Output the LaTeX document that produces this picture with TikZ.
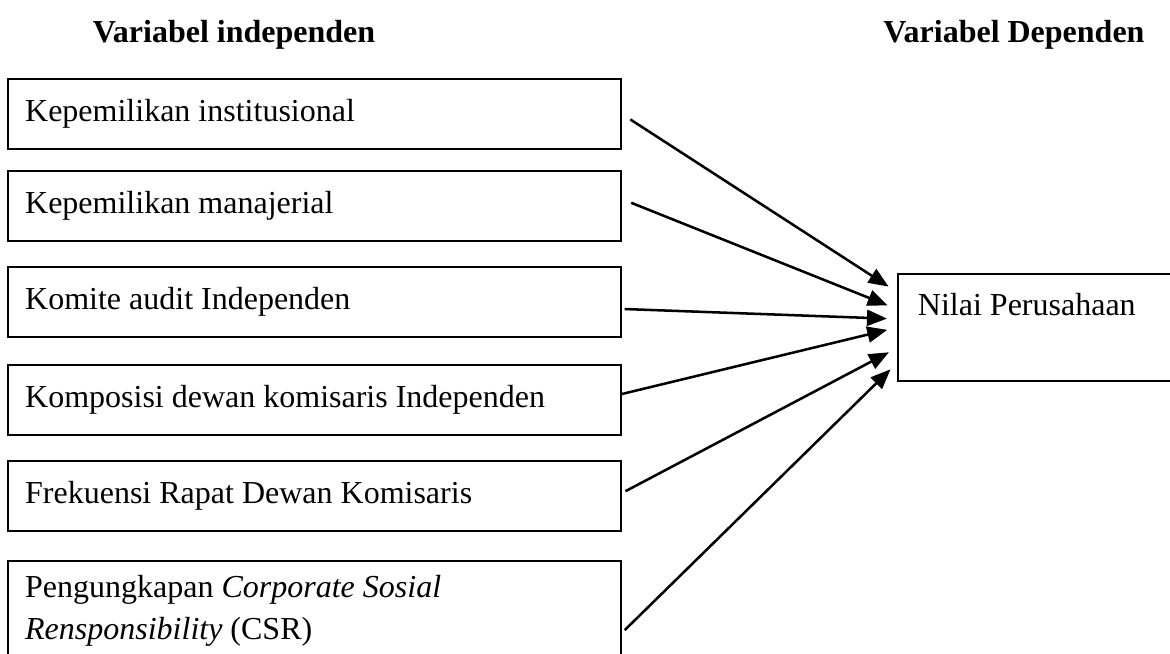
\documentclass[tikz,border=0pt]{standalone}
\usepackage{fontspec}
\setmainfont{Liberation Serif}
\usepackage{tikz}
\usetikzlibrary{arrows.meta}
\tikzstyle{box}=[draw, line width=0.75pt, inner xsep=6.4pt, text width=217pt, align=flush left, minimum height=26.25pt, font=\fontsize{12}{15.75}\selectfont]
\tikzstyle{tallbox}=[box, minimum height=37.5pt]
\tikzstyle{dbox}=[draw, line width=0.75pt, inner xsep=7.5pt, inner ysep=6.9pt, text width=100pt, align=flush left, text height=8.5pt, text depth=17.8pt, font=\fontsize{12}{15.75}\selectfont]
\tikzstyle{heading}=[font=\fontsize{12}{14}\selectfont\bfseries]
\tikzstyle{link}=[line width=0.95pt, -{Triangle[length=7.5pt, width=6pt]}, shorten <=3.75pt, shorten >=3.75pt]

\begin{document}
\begin{tikzpicture}[x=0.375pt, y=-0.375pt]
        \useasboundingbox (0, 0) rectangle (1170, 653);
        \node[heading]                   (Hind) at (234, 35) {Variabel independen};
        \node[heading]                   (Hdep) at (1014, 35) {Variabel Dependen};
        \node[box]                       (X1) at (314.5, 114) {Kepemilikan institusional};
        \node[box]                       (X2) at (314.5, 206) {Kepemilikan manajerial};
        \node[box]                       (X3) at (314.5, 302) {Komite audit Independen};
        \node[box]                       (X4) at (314.5, 400) {Komposisi dewan komisaris Independen};
        \node[box]                       (X5) at (314.5, 496) {Frekuensi Rapat Dewan Komisaris};
        \node[tallbox]                   (X6) at (314.5, 611) {Pengungkapan \textit{Corporate Sosial}\\\textit{Rensponsibility} (CSR)};
        \node[dbox, minimum width=115pt] (Y) at (1051.3, 327.5) {Nilai Perusahaan};
        \draw[link] (X1.east) -- ([yshift=13.3pt]Y.west);
        \draw[link] ([yshift=2.6pt]X2.east) -- ([yshift=6.9pt]Y.west);
        \draw[link, shorten <=1pt] ([yshift=-2.6pt]X3.east) -- ([yshift=3.2pt]Y.west);
        \draw[link, shorten <=0pt] ([yshift=2.25pt]X4.east) -- (Y.west);
        \draw[link, shorten <=1.5pt, shorten >=3.4pt] ([yshift=1.1pt]X5.east) -- ([yshift=-7.7pt]Y.west);
        \draw[link, shorten <=1.5pt, shorten >=3.4pt] ([yshift=-8.2pt]X6.east) -- ([yshift=-13.3pt]Y.west);
    \end{tikzpicture}
\end{document}
